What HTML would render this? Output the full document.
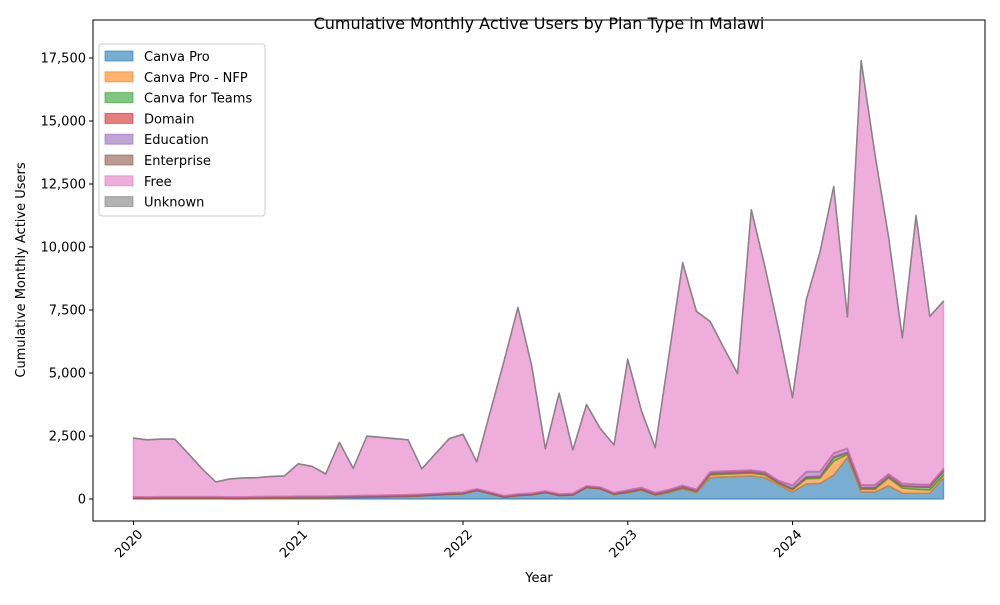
<!DOCTYPE html>
<html><head><meta charset="utf-8"><style>
body{margin:0;background:#fff;}
svg text{font-family:"DejaVu Sans","Liberation Sans",sans-serif;fill:#000;}
</style></head><body>
<svg id="chart" width="1000" height="600" viewBox="0 0 1000 600" xmlns="http://www.w3.org/2000/svg">
<text x="539" y="29" font-size="16" text-anchor="middle">Cumulative Monthly Active Users by Plan Type in Malawi</text>
<g id="plot"></g>
<g id="axes"></g>
<g id="legend"></g>
<text x="539" y="582" font-size="13" text-anchor="middle">Year</text>
<text transform="translate(25,270) rotate(-90)" font-size="13" text-anchor="middle">Cumulative Monthly Active Users</text>
</svg>
<script>
const seriesNames = ["Canva Pro","Canva Pro - NFP","Canva for Teams","Domain","Education","Enterprise","Free","Unknown"];
const seriesColors = ["#1f77b4","#ff7f0e","#2ca02c","#d62728","#9467bd","#8c564b","#e377c2","#7f7f7f"];
const canvaPro = [20,10,20,20,20,20,20,10,10,20,30,30, 40,40,40,50,60,70,80,90,100,120,150,180, 200,330,200,60,130,160,250,130,150,450,400,180, 250,350,150,250,400,250,850,880,900,920,850,550, 280,600,620,950,1650,280,280,530,230,230,230,850];
const canvaProNfp = [10,10,10,10,10,10,10,10,10,10,10,10, 10,10,10,10,10,10,10,10,10,10,10,10, 10,10,10,10,10,10,10,10,10,10,10,10, 20,20,20,30,40,40,100,100,100,100,100,60, 80,200,200,550,120,100,100,300,200,150,120,100];
const canvaTeams = [5,5,5,5,5,5,5,5,5,5,5,5, 5,5,5,5,5,5,5,5,5,5,5,5, 5,5,5,5,5,5,5,5,5,5,5,5, 10,10,10,20,20,20,40,40,40,40,40,30, 40,60,60,150,60,50,60,60,80,100,120,150];
const domain = [20,20,20,20,20,20,20,20,20,20,20,20, 20,20,20,20,20,20,20,20,20,20,20,20, 20,20,20,20,20,20,20,20,20,20,20,20, 20,20,20,20,20,20,20,20,20,20,20,20, 20,20,20,20,20,20,20,20,20,20,20,20];
const education = [30,30,30,30,30,30,30,30,30,30,30,30, 30,30,30,30,30,30,30,30,30,30,30,30, 30,30,30,30,30,30,30,30,30,30,30,30, 50,50,50,50,50,50,60,60,60,60,60,60, 120,200,180,150,150,100,100,80,80,80,80,80];
const enterprise = [10,10,10,10,10,10,10,10,10,10,10,10, 10,10,10,10,10,10,10,10,10,10,10,10, 10,10,10,10,10,10,10,10,10,10,10,10, 10,10,10,10,10,10,10,10,10,10,10,10, 10,10,10,10,10,10,10,10,10,10,10,10];
const free = [2320,2260,2280,2280,1700,1100,580,710,750,750,790,810, 1280,1180,880,2120,1080,2350,2290,2230,2170,1000,1570,2140, 2290,1070,3220,5360,7390,5060,1670,3990,1720,3220,2320,1890, 5185,3035,1785,5315,8835,7055,5965,4885,3845,10325,8115,5965, 3475,6805,8705,10565,5215,16835,13125,9395,5775,10655,6665,6635];
const unknown = [5,5,5,5,5,5,5,5,5,5,5,5, 5,5,5,5,5,5,5,5,5,5,5,5, 5,5,5,5,5,5,5,5,5,5,5,5, 5,5,5,5,5,5,5,5,5,5,5,5, 5,5,5,5,5,5,5,5,5,5,5,5];
const yTicks = [0,2500,5000,7500,10000,12500,15000,17500];
const yTickLabels = ["0","2,500","5,000","7,500","10,000","12,500","15,000","17,500"];
const xTickYears = [2020,2021,2022,2023,2024];

const series = [canvaPro,canvaProNfp,canvaTeams,domain,education,enterprise,free,unknown];
const NS="http://www.w3.org/2000/svg";
const L=93,R=985,T=20,B=521;
function xScale(m){return 133.5 + m*(164.75/12);}
function yScale(v){return 499 - v*(441/17500);}
function mk(tag,attrs,parent){const e=document.createElementNS(NS,tag);for(const k in attrs)e.setAttribute(k,attrs[k]);parent.appendChild(e);return e;}
const plot=document.getElementById('plot'),axes=document.getElementById('axes'),legend=document.getElementById('legend');
const n=canvaPro.length;
let base=new Array(n).fill(0);
series.forEach((s,i)=>{
  const top=base.map((b,j)=>b+s[j]);
  let d="";
  for(let j=0;j<n;j++)d+=(j?"L":"M")+xScale(j).toFixed(2)+","+yScale(top[j]).toFixed(2);
  for(let j=n-1;j>=0;j--)d+="L"+xScale(j).toFixed(2)+","+yScale(base[j]).toFixed(2);
  d+="Z";
  const isTop=(i===series.length-1);
  const p=mk('path',{d:d,fill:seriesColors[i],'fill-opacity':0.6,stroke:seriesColors[i],'stroke-opacity':isTop?0.9:0.6,'stroke-width':1.5,'stroke-linejoin':'round'},plot);
  
  
  base=top;
});
const fr=mk('rect',{x:L,y:T,width:R-L,height:B-T,fill:'none',stroke:'#000','stroke-width':1},axes);


yTicks.forEach((v,i)=>{
  const y=yScale(v);
  const t=mk('line',{x1:L-4,x2:L,y1:y,y2:y,stroke:'#000'},axes);
  
  
  const tx=mk('text',{x:L-7,y:y+4.5,'font-size':13,'text-anchor':'end'},axes);
  tx.textContent=yTickLabels[i];
  
  
});
xTickYears.forEach(yr=>{
  const x=xScale((yr-2020)*12);
  const t=mk('line',{x1:x,x2:x,y1:B,y2:B+4,stroke:'#000'},axes);
  
  
  const ax=x+10, ay=B+14;
  const tx=mk('text',{x:ax,y:ay,'font-size':13,'text-anchor':'end',transform:`rotate(-45 ${ax} ${ay})`},axes);
  tx.textContent=String(yr);
  
  
});
const lb=mk('rect',{x:99,y:44,width:166,height:172,rx:3,fill:'#fff','fill-opacity':0.8,stroke:'#ccc'},legend);


seriesNames.forEach((nm,i)=>{
  const y=56+i*20.8;
  const g=mk('g',{},legend);
  
  
  mk('rect',{x:105,y:y-5,width:28,height:10,fill:seriesColors[i],'fill-opacity':0.6,stroke:seriesColors[i],'stroke-opacity':0.6},g);
  const tx=mk('text',{x:144,y:y+5,'font-size':13},g);
  tx.textContent=nm;
});
</script>
</body></html>
